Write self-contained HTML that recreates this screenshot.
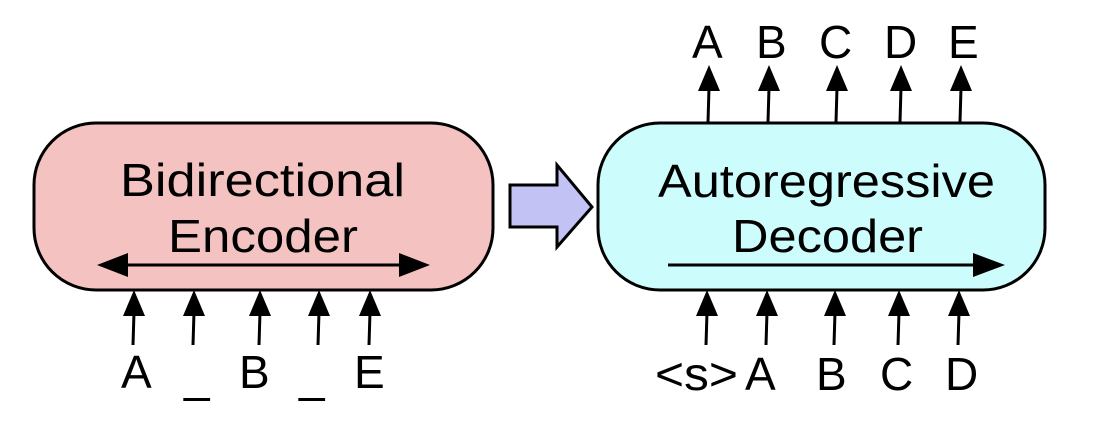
<!DOCTYPE html>
<html><head><meta charset="utf-8"><style>html,body{margin:0;padding:0;background:#fff}svg{display:block}</style></head>
<body>
<svg width="1110" height="434" viewBox="0 0 1110 434" xmlns="http://www.w3.org/2000/svg" font-family="Liberation Sans, Arial, sans-serif" font-size="46" fill="#000">
<defs>
<marker id="ah" markerWidth="10" markerHeight="10" refX="9" refY="5" orient="auto" markerUnits="userSpaceOnUse" viewBox="0 0 10 10"><path d="M0,0 L10,5 L0,10 z"/></marker>
</defs>
<!-- encoder -->
<rect x="34" y="123" width="459" height="167" rx="62" ry="62" fill="#f4c2c0" stroke="#000" stroke-width="3"/>
<text x="120" y="196" textLength="285" lengthAdjust="spacingAndGlyphs">Bidirectional</text>
<text x="168" y="252" textLength="190" lengthAdjust="spacingAndGlyphs">Encoder</text>
<line x1="125" y1="265" x2="402" y2="265" stroke="#000" stroke-width="3"/>
<path d="M97,265 L128,253 L128,277 z"/>
<path d="M430,265 L399,253 L399,277 z"/>
<!-- encoder inputs -->
<g stroke="#000" stroke-width="3">
<line x1="133" y1="345" x2="134" y2="312"/>
<line x1="193" y1="345" x2="194" y2="312"/>
<line x1="259" y1="345" x2="260" y2="312"/>
<line x1="318" y1="345" x2="319" y2="312"/>
<line x1="369" y1="345" x2="370" y2="312"/>
</g>
<g>
<path d="M134,290 L123,316 L145,316 z"/>
<path d="M194,290 L183,316 L205,316 z"/>
<path d="M260,290 L249,316 L271,316 z"/>
<path d="M319,290 L308,316 L330,316 z"/>
<path d="M370,290 L359,316 L381,316 z"/>
</g>
<text x="121" y="388">A</text>
<text x="184" y="392">_</text>
<text x="239" y="388">B</text>
<text x="299" y="392">_</text>
<text x="354" y="388">E</text>
<!-- fat arrow -->
<path d="M510,185 L557,185 L557,165 L592,207 L557,247 L557,227 L510,227 z" fill="#c2c2f4" stroke="#000" stroke-width="3" stroke-linejoin="miter"/>
<!-- decoder -->
<rect x="598" y="123" width="447" height="167" rx="62" ry="62" fill="#ccfcfc" stroke="#000" stroke-width="3"/>
<text x="658" y="197" textLength="337" lengthAdjust="spacingAndGlyphs">Autoregressive</text>
<text x="732" y="252" textLength="191" lengthAdjust="spacingAndGlyphs">Decoder</text>
<line x1="668" y1="265" x2="978" y2="265" stroke="#000" stroke-width="3"/>
<path d="M1005,265 L973,253 L973,277 z"/>
<!-- decoder outputs -->
<g stroke="#000" stroke-width="3">
<line x1="708" y1="122" x2="709" y2="88"/>
<line x1="768" y1="122" x2="769" y2="88"/>
<line x1="836" y1="122" x2="837" y2="88"/>
<line x1="900" y1="122" x2="901" y2="88"/>
<line x1="960" y1="122" x2="961" y2="88"/>
</g>
<path d="M709,65 L698,91 L720,91 z"/>
<path d="M769,65 L758,91 L780,91 z"/>
<path d="M837,65 L826,91 L848,91 z"/>
<path d="M901,65 L890,91 L912,91 z"/>
<path d="M961,65 L950,91 L972,91 z"/>
<text x="692" y="58">A</text>
<text x="756" y="58">B</text>
<text x="819" y="58">C</text>
<text x="884" y="58">D</text>
<text x="948" y="58">E</text>
<!-- decoder inputs -->
<g stroke="#000" stroke-width="3">
<line x1="706" y1="345" x2="707" y2="312"/>
<line x1="766" y1="345" x2="767" y2="312"/>
<line x1="834" y1="345" x2="835" y2="312"/>
<line x1="898" y1="345" x2="899" y2="312"/>
<line x1="958" y1="345" x2="959" y2="312"/>
</g>
<path d="M707,290 L696,316 L718,316 z"/>
<path d="M767,290 L756,316 L778,316 z"/>
<path d="M835,290 L824,316 L846,316 z"/>
<path d="M899,290 L888,316 L910,316 z"/>
<path d="M959,290 L948,316 L970,316 z"/>
<text x="655" y="390" textLength="83" lengthAdjust="spacingAndGlyphs">&lt;s&gt;</text>
<text x="745" y="390">A</text>
<text x="816" y="390">B</text>
<text x="880" y="390">C</text>
<text x="945" y="390">D</text>
</svg>
</body></html>
